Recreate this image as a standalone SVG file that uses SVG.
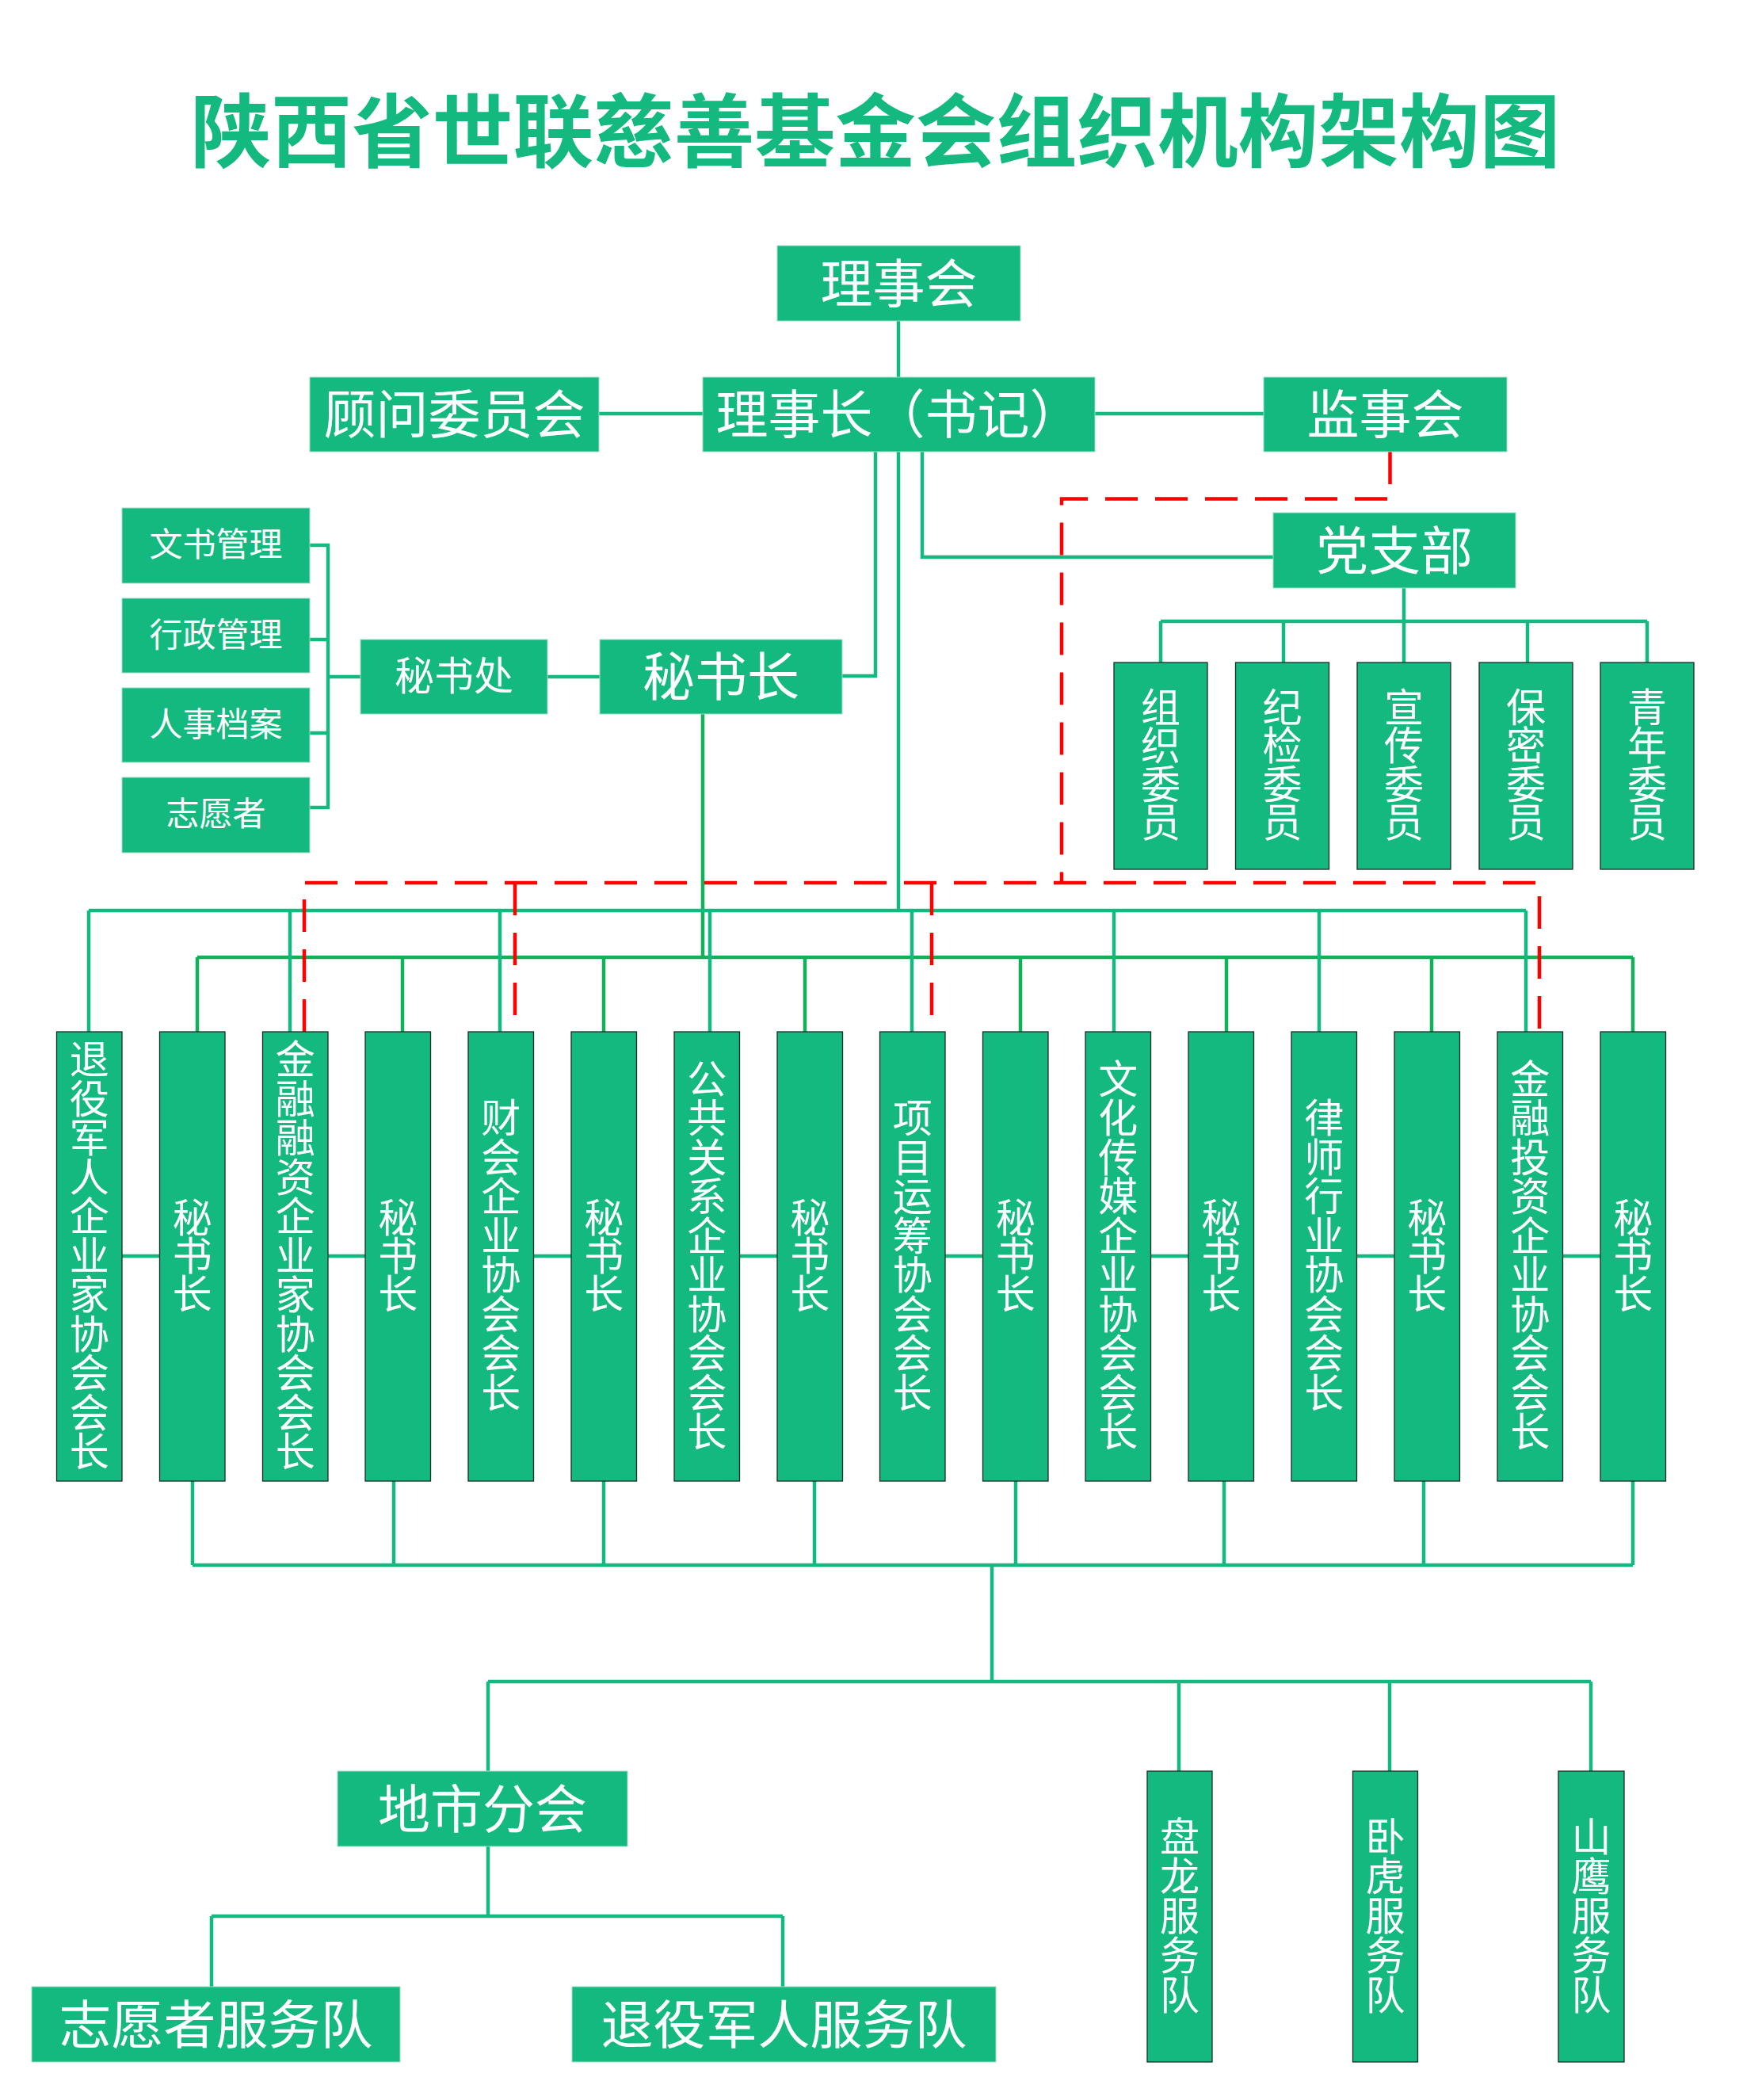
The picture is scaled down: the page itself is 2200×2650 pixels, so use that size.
<svg xmlns="http://www.w3.org/2000/svg" width="2200" height="2650" viewBox="0 0 2200 2650">
<style>
.box{fill:#14b97f;stroke:#9fdcc4;stroke-width:1}
.vbox{fill:#14b97f;stroke:#1d2b25;stroke-width:1.3}
.t{fill:#ffffff;font-family:"Noto Sans CJK SC","Noto Sans",sans-serif;text-anchor:middle;dominant-baseline:central;transform:translateY(-5px)}
.f66{font-size:66px}.f50{font-size:50px}.f48{font-size:50px}.f40{font-size:42px}
.ttl{fill:#14b97f;font-family:"Noto Sans CJK SC","Noto Sans",sans-serif;font-weight:700;font-size:101.7px;text-anchor:middle;dominant-baseline:central}
.ln{fill:none;stroke:#14b97f;stroke-width:4.5}
.ln2{fill:none;stroke:#10b158;stroke-width:4.5}
.rd{fill:none;stroke:#ff0000;stroke-width:4.5;stroke-dasharray:41 22}
</style>
<rect width="2200" height="2650" fill="#ffffff"/>
<text class="ttl" x="1105" y="158">陕西省世联慈善基金会组织机构架构图</text>

<g id="connectors">
  <path class="ln" d="M1134,404 V476"/>
  <path class="ln" d="M756,522 H887"/>
  <path class="ln" d="M1382,522 H1595"/>
  <path class="ln" d="M1105,570 V853 H1063"/>
  <path class="ln" d="M1134,570 V1149"/>
  <path class="ln" d="M1164,570 V703 H1607"/>
  <path class="ln" d="M1772,742 V784 M1465,784 H2079 M1465,784 V836 M1620,784 V836 M1772,784 V836 M1928,784 V836 M2079,784 V836"/>
  <path class="ln" d="M391,688 H414 V1019 H391 M391,807 H414 M391,925 H414 M414,854 H455"/>
  <path class="ln" d="M691,854 H757"/>
  <path class="ln2" d="M887,900 V1208 M249,1208 H2061 M249,1208 V1302 M508,1208 V1302 M762,1208 V1302 M1016,1208 V1302 M1288,1208 V1302 M1548,1208 V1302 M1807,1208 V1302 M2061,1208 V1302"/>
  <path class="ln" d="M112,1149 H1926 M112,1149 V1302 M366,1149 V1302 M631,1149 V1302 M896,1149 V1302 M1151,1149 V1302 M1406,1149 V1302 M1665,1149 V1302 M1926,1149 V1302"/>
  <path class="ln" d="M154,1585 H201.5 M414,1585 H461 M673.5,1585 H721 M933.5,1585 H981 M1193,1585 H1240.5 M1452.5,1585 H1500 M1712.5,1585 H1760 M1972.5,1585 H2020"/>
  <path class="ln" d="M243,1869 V1975 M497,1869 V1975 M762,1869 V1975 M1028,1869 V1975 M1282,1869 V1975 M1545,1869 V1975 M1797,1869 V1975 M2061,1869 V1975 M243,1975 H2061"/>
  <path class="ln" d="M1252,1975 V2122 M616,2122 H2008 M616,2122 V2235 M1488,2122 V2235 M1754,2122 V2235 M2008,2122 V2235"/>
  <path class="ln" d="M616,2330 V2418 M267,2418 H988 M267,2418 V2507 M988,2418 V2507"/>
  <path class="rd" d="M1754.5,570 V629.5 H1340 V1114"/>
  <path class="rd" d="M384,1302 V1114 H1943 V1302"/>
  <path class="rd" d="M650,1114 V1302"/>
  <path class="rd" d="M1176,1114 V1302"/>
</g>

<g id="n-lishihui"><rect class="box" x="981" y="310" width="307" height="95"/><text class="t f66" x="1134.5" y="357.5">理事会</text></g>
<g id="n-guwen"><rect class="box" x="391" y="476" width="365" height="94"/><text class="t f66" x="573.5" y="523">顾问委员会</text></g>
<g id="n-lishizhang"><rect class="box" x="887" y="476" width="495" height="94"/><text class="t f66" x="1134.5" y="523">理事长（书记）</text></g>
<g id="n-jianshi"><rect class="box" x="1595" y="476" width="307" height="94"/><text class="t f66" x="1748.5" y="523">监事会</text></g>
<g id="n-dangzhibu"><rect class="box" x="1607" y="647" width="306" height="95"/><text class="t f66" x="1760" y="694.5">党支部</text></g>
<g id="n-wenshu"><rect class="box" x="154" y="641" width="237" height="95"/><text class="t f40" x="272.5" y="688.5">文书管理</text></g>
<g id="n-xingzheng"><rect class="box" x="154" y="755" width="237" height="94"/><text class="t f40" x="272.5" y="802">行政管理</text></g>
<g id="n-renshi"><rect class="box" x="154" y="868" width="237" height="94"/><text class="t f40" x="272.5" y="915">人事档案</text></g>
<g id="n-zhiyuanzhe"><rect class="box" x="154" y="981" width="237" height="95"/><text class="t f40" x="272.5" y="1028.5">志愿者</text></g>
<g id="n-mishuchu"><rect class="box" x="455" y="807" width="236" height="94"/><text class="t f48" x="573" y="854">秘书处</text></g>
<g id="n-mishuzhang"><rect class="box" x="757" y="807" width="306" height="94"/><text class="t f66" x="910" y="854">秘书长</text></g>

<g id="n-zuzhi"><rect class="vbox" x="1406" y="836" width="118" height="261"/><text class="t f50" x="1465 1465 1465 1465" y="893.75 942.25 990.75 1039.25">组织委员</text></g>
<g id="n-jijian"><rect class="vbox" x="1559.5" y="836" width="118" height="261"/><text class="t f50" x="1618.5 1618.5 1618.5 1618.5" y="893.75 942.25 990.75 1039.25">纪检委员</text></g>
<g id="n-xuanchuan"><rect class="vbox" x="1713" y="836" width="118" height="261"/><text class="t f50" x="1772 1772 1772 1772" y="893.75 942.25 990.75 1039.25">宣传委员</text></g>
<g id="n-baomi"><rect class="vbox" x="1867" y="836" width="118" height="261"/><text class="t f50" x="1926 1926 1926 1926" y="893.75 942.25 990.75 1039.25">保密委员</text></g>
<g id="n-qingnian"><rect class="vbox" x="2020" y="836" width="118" height="261"/><text class="t f50" x="2079 2079 2079 2079" y="893.75 942.25 990.75 1039.25">青年委员</text></g>

<g id="n-a1"><rect class="vbox" x="71.5" y="1302" width="82.5" height="567"/><text class="t f50" x="112.75 112.75 112.75 112.75 112.75 112.75 112.75 112.75 112.75 112.75 112.75" y="1338 1387.5 1437 1486.5 1536 1585.5 1635 1684.5 1734 1783.5 1833">退役军人企业家协会会长</text></g>
<g id="n-s1"><rect class="vbox" x="201.5" y="1302" width="82.5" height="567"/><text class="t f50" x="242.75 242.75 242.75" y="1537.5 1585.5 1633.5">秘书长</text></g>
<g id="n-a2"><rect class="vbox" x="331.5" y="1302" width="82.5" height="567"/><text class="t f50" x="372.75 372.75 372.75 372.75 372.75 372.75 372.75 372.75 372.75 372.75 372.75" y="1338 1387.5 1437 1486.5 1536 1585.5 1635 1684.5 1734 1783.5 1833">金融融资企业家协会会长</text></g>
<g id="n-s2"><rect class="vbox" x="461" y="1302" width="82.5" height="567"/><text class="t f50" x="502.25 502.25 502.25" y="1537.5 1585.5 1633.5">秘书长</text></g>
<g id="n-a3"><rect class="vbox" x="591" y="1302" width="82.5" height="567"/><text class="t f50" x="632.25 632.25 632.25 632.25 632.25 632.25 632.25 632.25" y="1412.25 1461.75 1511.25 1560.75 1610.25 1659.75 1709.25 1758.75">财会企业协会会长</text></g>
<g id="n-s3"><rect class="vbox" x="721" y="1302" width="82.5" height="567"/><text class="t f50" x="762.25 762.25 762.25" y="1537.5 1585.5 1633.5">秘书长</text></g>
<g id="n-a4"><rect class="vbox" x="851" y="1302" width="82.5" height="567"/><text class="t f50" x="892.25 892.25 892.25 892.25 892.25 892.25 892.25 892.25 892.25 892.25" y="1362.75 1412.25 1461.75 1511.25 1560.75 1610.25 1659.75 1709.25 1758.75 1808.25">公共关系企业协会会长</text></g>
<g id="n-s4"><rect class="vbox" x="981" y="1302" width="82.5" height="567"/><text class="t f50" x="1022.25 1022.25 1022.25" y="1537.5 1585.5 1633.5">秘书长</text></g>
<g id="n-a5"><rect class="vbox" x="1110.5" y="1302" width="82.5" height="567"/><text class="t f50" x="1151.75 1151.75 1151.75 1151.75 1151.75 1151.75 1151.75 1151.75" y="1412.25 1461.75 1511.25 1560.75 1610.25 1659.75 1709.25 1758.75">项目运筹协会会长</text></g>
<g id="n-s5"><rect class="vbox" x="1240.5" y="1302" width="82.5" height="567"/><text class="t f50" x="1281.75 1281.75 1281.75" y="1537.5 1585.5 1633.5">秘书长</text></g>
<g id="n-a6"><rect class="vbox" x="1370" y="1302" width="82.5" height="567"/><text class="t f50" x="1411.25 1411.25 1411.25 1411.25 1411.25 1411.25 1411.25 1411.25 1411.25 1411.25" y="1362.75 1412.25 1461.75 1511.25 1560.75 1610.25 1659.75 1709.25 1758.75 1808.25">文化传媒企业协会会长</text></g>
<g id="n-s6"><rect class="vbox" x="1500" y="1302" width="82.5" height="567"/><text class="t f50" x="1541.25 1541.25 1541.25" y="1537.5 1585.5 1633.5">秘书长</text></g>
<g id="n-a7"><rect class="vbox" x="1630" y="1302" width="82.5" height="567"/><text class="t f50" x="1671.25 1671.25 1671.25 1671.25 1671.25 1671.25 1671.25 1671.25" y="1412.25 1461.75 1511.25 1560.75 1610.25 1659.75 1709.25 1758.75">律师行业协会会长</text></g>
<g id="n-s7"><rect class="vbox" x="1760" y="1302" width="82.5" height="567"/><text class="t f50" x="1801.25 1801.25 1801.25" y="1537.5 1585.5 1633.5">秘书长</text></g>
<g id="n-a8"><rect class="vbox" x="1890" y="1302" width="82.5" height="567"/><text class="t f50" x="1931.25 1931.25 1931.25 1931.25 1931.25 1931.25 1931.25 1931.25 1931.25 1931.25" y="1362.75 1412.25 1461.75 1511.25 1560.75 1610.25 1659.75 1709.25 1758.75 1808.25">金融投资企业协会会长</text></g>
<g id="n-s8"><rect class="vbox" x="2020" y="1302" width="82.5" height="567"/><text class="t f50" x="2061.25 2061.25 2061.25" y="1537.5 1585.5 1633.5">秘书长</text></g>

<g id="n-dishi"><rect class="box" x="426" y="2235" width="366" height="95"/><text class="t f66" x="609" y="2282.5">地市分会</text></g>
<g id="n-zyfwd"><rect class="box" x="40" y="2507" width="465" height="95"/><text class="t f66" x="272.5" y="2554.5">志愿者服务队</text></g>
<g id="n-tyfwd"><rect class="box" x="722" y="2507" width="535" height="95"/><text class="t f66" x="989.5" y="2554.5">退役军人服务队</text></g>
<g id="n-panlong"><rect class="vbox" x="1448" y="2235" width="82" height="367"/><text class="t f50" x="1489 1489 1489 1489 1489" y="2318.5 2368.5 2418.5 2468.5 2518.5">盘龙服务队</text></g>
<g id="n-wohu"><rect class="vbox" x="1707.5" y="2235" width="82" height="367"/><text class="t f50" x="1748.5 1748.5 1748.5 1748.5 1748.5" y="2318.5 2368.5 2418.5 2468.5 2518.5">卧虎服务队</text></g>
<g id="n-shanying"><rect class="vbox" x="1967" y="2235" width="83" height="367"/><text class="t f50" x="2008.5 2008.5 2008.5 2008.5 2008.5" y="2318.5 2368.5 2418.5 2468.5 2518.5">山鹰服务队</text></g>
</svg>
